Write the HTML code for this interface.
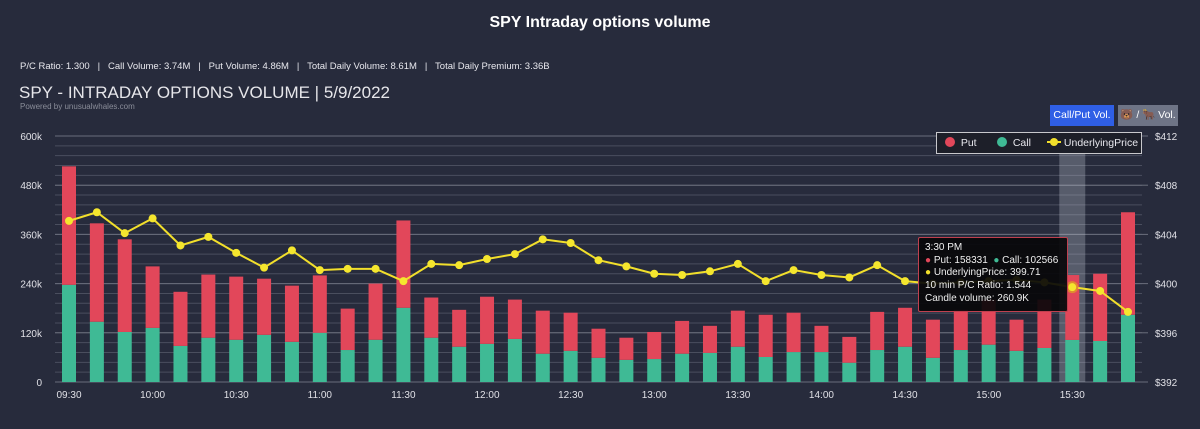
<!DOCTYPE html>
<html><head><meta charset="utf-8"><style>
body{margin:0;width:1200px;height:429px;background:#272b3c;font-family:"Liberation Sans",sans-serif;color:#fff;overflow:hidden;position:relative}
.abs{position:absolute}
</style></head><body>
<div class="abs" style="left:0;width:1200px;top:14px;text-align:center;font-weight:bold;font-size:16px">SPY Intraday options volume</div>
<div class="abs" style="left:20px;top:61px;font-size:9.5px;color:#e8e8ee;white-space:pre">P/C Ratio: 1.300   |   Call Volume: 3.74M   |   Put Volume: 4.86M   |   Total Daily Volume: 8.61M   |   Total Daily Premium: 3.36B</div>
<div class="abs" style="left:19px;top:83px;font-size:17px;color:#e6e6ea">SPY - INTRADAY OPTIONS VOLUME | 5/9/2022</div>
<div class="abs" style="left:20px;top:102px;font-size:8px;color:#8a8d99">Powered by unusualwhales.com</div>
<div class="abs" style="left:1050px;top:105px;width:64px;height:21px;background:#2f5fe6;font-size:10.5px;line-height:21px;text-align:center">Call/Put Vol.</div>
<div class="abs" style="left:1118px;top:105px;width:60px;height:21px;background:#6e7486;font-size:10.5px;line-height:21px;text-align:center">🐻 / 🐂 Vol.</div>
<svg class="abs" style="left:0;top:0" width="1200" height="429" id="chart"></svg>
<script>
const categories=["09:30","09:40","09:50","10:00","10:10","10:20","10:30","10:40","10:50","11:00","11:10","11:20","11:30","11:40","11:50","12:00","12:10","12:20","12:30","12:40","12:50","13:00","13:10","13:20","13:30","13:40","13:50","14:00","14:10","14:20","14:30","14:40","14:50","15:00","15:10","15:20","15:30","15:40","15:50"];
const callVals=[237,147,122,132,88,108,103,115,98,120,78,103,181,108,86,93,105,69,76,59,54,56,69,71,86,61,73,73,47,78,86,59,78,91,76,83,102.6,100,164];
const putVals=[289,240,226,150,132,154,154,137,137,140,101,137,213,98,90,115,96,105,93,71,54,66,80,66,88,103,96,64,63,93,95,93,98,110,76,118,158.3,164,250];
const priceVals=[405.1,405.8,404.1,405.3,403.1,403.8,402.5,401.3,402.7,401.1,401.2,401.2,400.2,401.6,401.5,402.0,402.4,403.6,403.3,401.9,401.4,400.8,400.7,401.0,401.6,400.2,401.1,400.7,400.5,401.5,400.2,400.0,400.1,400.2,400.3,400.1,399.71,399.4,397.7];
const volTicks=[0,120,240,360,480,600];
const priceTicks=[392,396,400,404,408,412];
const xLabels=["09:30","10:00","10:30","11:00","11:30","12:00","12:30","13:00","13:30","14:00","14:30","15:00","15:30"];
const svg=document.getElementById('chart');
const NS='http://www.w3.org/2000/svg';
const y0=382,yTop=136,xL=55,xR=1142;
function yV(v){return y0-(v/600)*(y0-yTop);}
function yP(p){return y0-((p-392)/20)*(y0-yTop);}
function xC(i){return 69+i*(1128-69)/(categories.length-1);}
function mk(t,a,txt){const e=document.createElementNS(NS,t);for(const k in a)e.setAttribute(k,a[k]);if(txt!==undefined)e.textContent=txt;svg.appendChild(e);return e;}
// minor grid
for(let v=0;v<=600;v+=24){const l=mk('line',{x1:xL,x2:xR,y1:yV(v),y2:yV(v),stroke:'#4a4e5e','stroke-width':1});

}
volTicks.forEach(v=>{const l=mk('line',{x1:xL,x2:xR,y1:yV(v),y2:yV(v),stroke:'#6a6e7c','stroke-width':1});


const t=mk('text',{x:42,y:yV(v)+4,'text-anchor':'end','font-size':10,fill:'#e0e0e6'},v===0?'0':v+'k');

});
priceTicks.forEach(p=>{const l=mk('line',{x1:xR,x2:1148,y1:yP(p),y2:yP(p),stroke:'#6a6e7c'});


const t=mk('text',{x:1155,y:yP(p)+4,'font-size':10,fill:'#e0e0e6'},'$'+p);

});
xLabels.forEach(lb=>{const i=categories.indexOf(lb);const t=mk('text',{x:xC(i),y:398,'text-anchor':'middle','font-size':10,fill:'#e0e0e6'},lb);

});
// highlight band
const hi=categories.indexOf("15:30");
const band=mk('rect',{x:xC(hi)-13,y:yTop,width:26,height:y0-yTop,fill:'rgba(200,205,220,0.3)'});


categories.forEach((c,i)=>{
const bw=14,x=xC(i)-bw/2;
const r1=mk('rect',{x:x,y:yV(callVals[i]),width:bw,height:y0-yV(callVals[i]),fill:'#3fba95'});


const r2=mk('rect',{x:x,y:yV(callVals[i]+putVals[i]),width:bw,height:yV(callVals[i])-yV(callVals[i]+putVals[i]),fill:'#e2475a'});

});
const pl=mk('polyline',{points:priceVals.map((p,i)=>xC(i)+','+yP(p)).join(' '),fill:'none',stroke:'#f2df2b','stroke-width':2});


priceVals.forEach((p,i)=>{const d=mk('circle',{cx:xC(i),cy:yP(p),r:i===hi?5:4,fill:'#f5e62e',stroke:i===hi?'#e08a30':'none','stroke-width':2});

});
</script>
<div class="abs" style="left:936px;top:132px;width:204px;height:20px;border:1px solid #c8c8cc;background:#1d1f29;font-size:10.5px;line-height:20px;color:#e8e8ee">
<span style="position:absolute;left:8px"><span style="display:inline-block;width:10px;height:10px;border-radius:50%;background:#e2475a;vertical-align:-1px"></span>&nbsp; Put</span>
<span style="position:absolute;left:60px"><span style="display:inline-block;width:10px;height:10px;border-radius:50%;background:#3fba95;vertical-align:-1px"></span>&nbsp; Call</span>
<span style="position:absolute;left:110px"><span style="display:inline-block;width:14px;height:2px;background:#f2df2b;vertical-align:3px;position:relative"><span style="position:absolute;left:3px;top:-3px;width:8px;height:8px;border-radius:50%;background:#f2df2b"></span></span> UnderlyingPrice</span>
</div>
<div class="abs" style="left:918px;top:237px;width:150px;height:75px;background:rgba(8,8,10,0.92);border:1px solid #c0404f;border-radius:2px;font-size:10px;color:#f0f0f0;line-height:12.7px;padding:4px 6px;box-sizing:border-box">
3:30 PM<br><span style="color:#e2475a">●</span> Put: 158331 &nbsp;<span style="color:#3fba95">●</span> Call: 102566<br><span style="color:#f2df2b">●</span> UnderlyingPrice: 399.71<br>10 min P/C Ratio: 1.544<br>Candle volume: 260.9K</div>
</body></html>
